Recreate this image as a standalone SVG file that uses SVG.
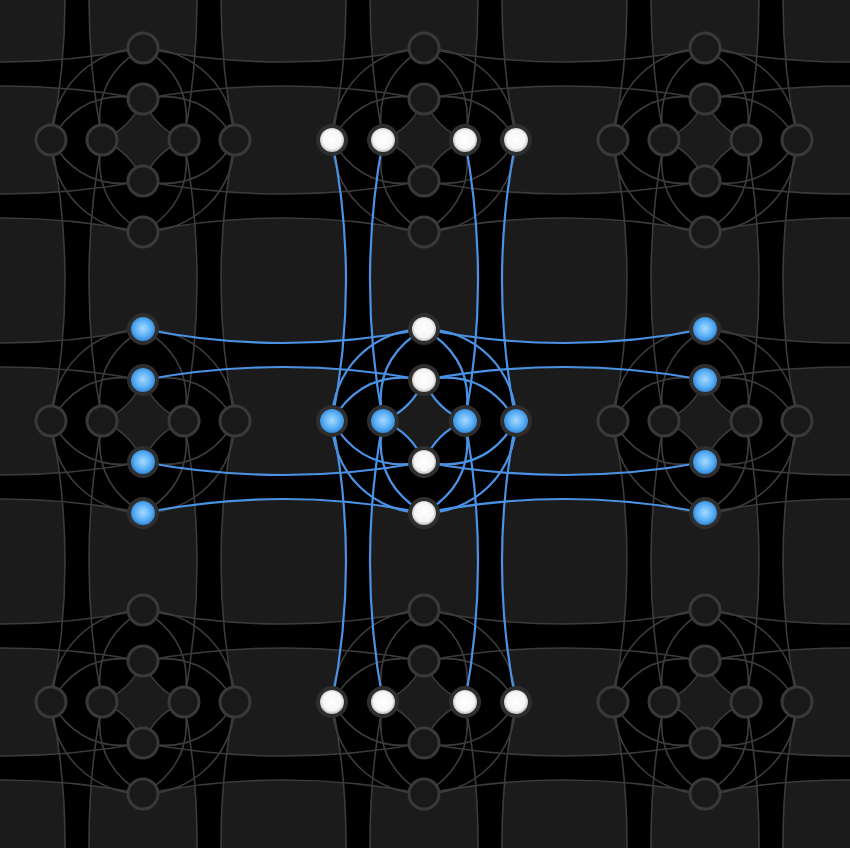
<svg xmlns="http://www.w3.org/2000/svg" width="850" height="848" viewBox="0 0 850 848">
<style>
.bg{fill:#1b1b1b}
.blk{fill:#000}
.dia{fill:#1b1b1b}
.e{fill:none;stroke:#3b3b3b;stroke-width:1.6}
.eb{fill:none;stroke:#4a92e4;stroke-width:2.2}
.n{fill:#191919;stroke:#393939;stroke-width:3}
.nw{fill:url(#gw);stroke:#2e2e2e;stroke-width:4}
.nb{fill:url(#gb);stroke:#2e2e2e;stroke-width:4}
</style>
<defs>
<radialGradient id="gw" cx="50%" cy="48%" r="55%"><stop offset="0" stop-color="#ffffff"/><stop offset="0.6" stop-color="#f6f6f6"/><stop offset="1" stop-color="#8e8e8e"/></radialGradient>
<radialGradient id="gb" cx="50%" cy="48%" r="55%"><stop offset="0" stop-color="#a6dbff"/><stop offset="0.55" stop-color="#56adf4"/><stop offset="1" stop-color="#1d6cc4"/></radialGradient>
<path id="vband" d="M-92,0 Q-64,140.5 -92,281 L-41,281 Q-67,140.5 -41,0 Z M92,0 Q64,140.5 92,281 L41,281 Q67,140.5 41,0 Z"/>
<path id="hband" d="M0,-92 Q140.5,-64 281,-92 L281,-41 Q140.5,-67 0,-41 Z M0,92 Q140.5,64 281,92 L281,41 Q140.5,67 0,41 Z"/>
<path id="core" d="M0,-92 Q30,-86 60,-82.6 L82.6,-60 Q86,-30 92,0 Q86,30 82.6,60 L60,82.6 Q30,86 0,92 Q-30,86 -60,82.6 L-82.6,60 Q-86,30 -92,0 Q-86,-30 -82.6,-60 L-60,-82.6 Q-30,-86 0,-92 Z"/>
<path id="diam" d="M-41,0 Q-12,-12 0,-41 Q12,-12 41,0 Q12,12 0,41 Q-12,12 -41,0 Z"/>
<path id="tile" d="M-41,0 Q-12,-12 0,-41 Q12,-12 41,0 Q12,12 0,41 Q-12,12 -41,0 Z M0,-92 A92,92 0 1,0 0,92 A92,92 0 1,0 0,-92 M-92,0 Q-60.7,-53.4 0,-41 Q60.7,-53.4 92,0 Q60.7,53.4 0,41 Q-60.7,53.4 -92,0 M0,-92 Q-53.4,-60.7 -41,0 Q-53.4,60.7 0,92 Q53.4,60.7 41,0 Q53.4,-60.7 0,-92"/>
<path id="vl" d="M-92,0 Q-64,140.5 -92,281 M-41,0 Q-67,140.5 -41,281 M41,0 Q67,140.5 41,281 M92,0 Q64,140.5 92,281"/>
<path id="hl" d="M0,-92 Q140.5,-64 281,-92 M0,-41 Q140.5,-67 281,-41 M0,41 Q140.5,67 281,41 M0,92 Q140.5,64 281,92"/>
</defs>
<rect class="bg" width="850" height="848"/>
<g id="faces" class="blk">
<use href="#vband" x="143" y="-141"/><use href="#vband" x="143" y="140"/><use href="#vband" x="143" y="421"/><use href="#vband" x="143" y="702"/>
<use href="#vband" x="424" y="-141"/><use href="#vband" x="424" y="140"/><use href="#vband" x="424" y="421"/><use href="#vband" x="424" y="702"/>
<use href="#vband" x="705" y="-141"/><use href="#vband" x="705" y="140"/><use href="#vband" x="705" y="421"/><use href="#vband" x="705" y="702"/>
<use href="#hband" x="-138" y="140"/><use href="#hband" x="143" y="140"/><use href="#hband" x="424" y="140"/><use href="#hband" x="705" y="140"/>
<use href="#hband" x="-138" y="421"/><use href="#hband" x="143" y="421"/><use href="#hband" x="424" y="421"/><use href="#hband" x="705" y="421"/>
<use href="#hband" x="-138" y="702"/><use href="#hband" x="143" y="702"/><use href="#hband" x="424" y="702"/><use href="#hband" x="705" y="702"/>
<use href="#core" x="143" y="140"/><use href="#core" x="424" y="140"/><use href="#core" x="705" y="140"/>
<use href="#core" x="143" y="421"/><use href="#core" x="424" y="421"/><use href="#core" x="705" y="421"/>
<use href="#core" x="143" y="702"/><use href="#core" x="424" y="702"/><use href="#core" x="705" y="702"/>
</g>
<g id="diamonds" class="dia">
<use href="#diam" x="143" y="140"/><use href="#diam" x="424" y="140"/><use href="#diam" x="705" y="140"/>
<use href="#diam" x="143" y="421"/><use href="#diam" x="424" y="421"/><use href="#diam" x="705" y="421"/>
<use href="#diam" x="143" y="702"/><use href="#diam" x="424" y="702"/><use href="#diam" x="705" y="702"/>
</g>
<g id="connectors">
<g class="e">
<use href="#tile" x="143" y="140"/><use href="#tile" x="424" y="140"/><use href="#tile" x="705" y="140"/>
<use href="#tile" x="143" y="421"/><use href="#tile" x="705" y="421"/>
<use href="#tile" x="143" y="702"/><use href="#tile" x="424" y="702"/><use href="#tile" x="705" y="702"/>
<use href="#vl" x="143" y="-141"/><use href="#vl" x="143" y="140"/><use href="#vl" x="143" y="421"/><use href="#vl" x="143" y="702"/>
<use href="#vl" x="424" y="-141"/><use href="#vl" x="424" y="702"/>
<use href="#vl" x="705" y="-141"/><use href="#vl" x="705" y="140"/><use href="#vl" x="705" y="421"/><use href="#vl" x="705" y="702"/>
<use href="#hl" x="-138" y="140"/><use href="#hl" x="143" y="140"/><use href="#hl" x="424" y="140"/><use href="#hl" x="705" y="140"/>
<use href="#hl" x="-138" y="421"/><use href="#hl" x="705" y="421"/>
<use href="#hl" x="-138" y="702"/><use href="#hl" x="143" y="702"/><use href="#hl" x="424" y="702"/><use href="#hl" x="705" y="702"/>
</g>
<g class="eb">
<use href="#tile" x="424" y="421"/>
<use href="#vl" x="424" y="140"/><use href="#vl" x="424" y="421"/>
<use href="#hl" x="143" y="421"/><use href="#hl" x="424" y="421"/>
</g>
</g>
<g id="nodes">
<g id="t00-L2"><circle class="n" cx="51" cy="140" r="15"/></g>
<g id="t00-L1"><circle class="n" cx="102" cy="140" r="15"/></g>
<g id="t00-R1"><circle class="n" cx="184" cy="140" r="15"/></g>
<g id="t00-R2"><circle class="n" cx="235" cy="140" r="15"/></g>
<g id="t00-T2"><circle class="n" cx="143" cy="48" r="15"/></g>
<g id="t00-T1"><circle class="n" cx="143" cy="99" r="15"/></g>
<g id="t00-B1"><circle class="n" cx="143" cy="181" r="15"/></g>
<g id="t00-B2"><circle class="n" cx="143" cy="232" r="15"/></g>
<g id="t01-L2"><circle class="nw" cx="332" cy="140" r="14"/></g>
<g id="t01-L1"><circle class="nw" cx="383" cy="140" r="14"/></g>
<g id="t01-R1"><circle class="nw" cx="465" cy="140" r="14"/></g>
<g id="t01-R2"><circle class="nw" cx="516" cy="140" r="14"/></g>
<g id="t01-T2"><circle class="n" cx="424" cy="48" r="15"/></g>
<g id="t01-T1"><circle class="n" cx="424" cy="99" r="15"/></g>
<g id="t01-B1"><circle class="n" cx="424" cy="181" r="15"/></g>
<g id="t01-B2"><circle class="n" cx="424" cy="232" r="15"/></g>
<g id="t02-L2"><circle class="n" cx="613" cy="140" r="15"/></g>
<g id="t02-L1"><circle class="n" cx="664" cy="140" r="15"/></g>
<g id="t02-R1"><circle class="n" cx="746" cy="140" r="15"/></g>
<g id="t02-R2"><circle class="n" cx="797" cy="140" r="15"/></g>
<g id="t02-T2"><circle class="n" cx="705" cy="48" r="15"/></g>
<g id="t02-T1"><circle class="n" cx="705" cy="99" r="15"/></g>
<g id="t02-B1"><circle class="n" cx="705" cy="181" r="15"/></g>
<g id="t02-B2"><circle class="n" cx="705" cy="232" r="15"/></g>
<g id="t10-L2"><circle class="n" cx="51" cy="421" r="15"/></g>
<g id="t10-L1"><circle class="n" cx="102" cy="421" r="15"/></g>
<g id="t10-R1"><circle class="n" cx="184" cy="421" r="15"/></g>
<g id="t10-R2"><circle class="n" cx="235" cy="421" r="15"/></g>
<g id="t10-T2"><circle class="nb" cx="143" cy="329" r="14"/></g>
<g id="t10-T1"><circle class="nb" cx="143" cy="380" r="14"/></g>
<g id="t10-B1"><circle class="nb" cx="143" cy="462" r="14"/></g>
<g id="t10-B2"><circle class="nb" cx="143" cy="513" r="14"/></g>
<g id="t11-L2"><circle class="nb" cx="332" cy="421" r="14"/></g>
<g id="t11-L1"><circle class="nb" cx="383" cy="421" r="14"/></g>
<g id="t11-R1"><circle class="nb" cx="465" cy="421" r="14"/></g>
<g id="t11-R2"><circle class="nb" cx="516" cy="421" r="14"/></g>
<g id="t11-T2"><circle class="nw" cx="424" cy="329" r="14"/></g>
<g id="t11-T1"><circle class="nw" cx="424" cy="380" r="14"/></g>
<g id="t11-B1"><circle class="nw" cx="424" cy="462" r="14"/></g>
<g id="t11-B2"><circle class="nw" cx="424" cy="513" r="14"/></g>
<g id="t12-L2"><circle class="n" cx="613" cy="421" r="15"/></g>
<g id="t12-L1"><circle class="n" cx="664" cy="421" r="15"/></g>
<g id="t12-R1"><circle class="n" cx="746" cy="421" r="15"/></g>
<g id="t12-R2"><circle class="n" cx="797" cy="421" r="15"/></g>
<g id="t12-T2"><circle class="nb" cx="705" cy="329" r="14"/></g>
<g id="t12-T1"><circle class="nb" cx="705" cy="380" r="14"/></g>
<g id="t12-B1"><circle class="nb" cx="705" cy="462" r="14"/></g>
<g id="t12-B2"><circle class="nb" cx="705" cy="513" r="14"/></g>
<g id="t20-L2"><circle class="n" cx="51" cy="702" r="15"/></g>
<g id="t20-L1"><circle class="n" cx="102" cy="702" r="15"/></g>
<g id="t20-R1"><circle class="n" cx="184" cy="702" r="15"/></g>
<g id="t20-R2"><circle class="n" cx="235" cy="702" r="15"/></g>
<g id="t20-T2"><circle class="n" cx="143" cy="610" r="15"/></g>
<g id="t20-T1"><circle class="n" cx="143" cy="661" r="15"/></g>
<g id="t20-B1"><circle class="n" cx="143" cy="743" r="15"/></g>
<g id="t20-B2"><circle class="n" cx="143" cy="794" r="15"/></g>
<g id="t21-L2"><circle class="nw" cx="332" cy="702" r="14"/></g>
<g id="t21-L1"><circle class="nw" cx="383" cy="702" r="14"/></g>
<g id="t21-R1"><circle class="nw" cx="465" cy="702" r="14"/></g>
<g id="t21-R2"><circle class="nw" cx="516" cy="702" r="14"/></g>
<g id="t21-T2"><circle class="n" cx="424" cy="610" r="15"/></g>
<g id="t21-T1"><circle class="n" cx="424" cy="661" r="15"/></g>
<g id="t21-B1"><circle class="n" cx="424" cy="743" r="15"/></g>
<g id="t21-B2"><circle class="n" cx="424" cy="794" r="15"/></g>
<g id="t22-L2"><circle class="n" cx="613" cy="702" r="15"/></g>
<g id="t22-L1"><circle class="n" cx="664" cy="702" r="15"/></g>
<g id="t22-R1"><circle class="n" cx="746" cy="702" r="15"/></g>
<g id="t22-R2"><circle class="n" cx="797" cy="702" r="15"/></g>
<g id="t22-T2"><circle class="n" cx="705" cy="610" r="15"/></g>
<g id="t22-T1"><circle class="n" cx="705" cy="661" r="15"/></g>
<g id="t22-B1"><circle class="n" cx="705" cy="743" r="15"/></g>
<g id="t22-B2"><circle class="n" cx="705" cy="794" r="15"/></g>
</g>
</svg>
